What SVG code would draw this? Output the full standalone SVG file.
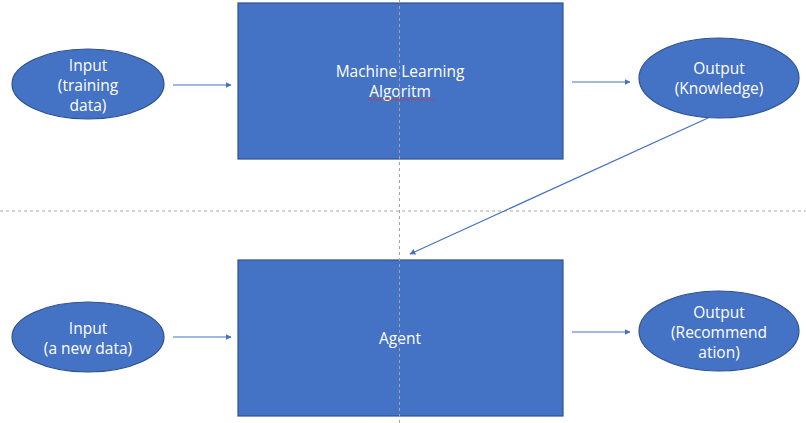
<svg xmlns="http://www.w3.org/2000/svg" width="806" height="423" viewBox="0 0 806 423">
<style>
.shape{fill:#4472C4;stroke:#2F528F;stroke-width:1.2}
.lbl{font-family:"Open Sans","Noto Sans","Liberation Sans",sans-serif;font-size:15.5px;fill:#FFFFFF;text-anchor:middle}
.guide{stroke:#A6A6A6;stroke-width:1;stroke-dasharray:3 3;fill:none}
.conn{stroke:#4472C4;stroke-width:1.2;fill:none;marker-end:url(#ah)}
</style>
<defs>
<marker id="ah" viewBox="0 0 10 10" refX="9" refY="5" markerWidth="6" markerHeight="6" markerUnits="userSpaceOnUse" orient="auto">
<path d="M0,0 L10,5 L0,10 z" fill="#4472C4"/>
</marker>
</defs>
<rect width="806" height="423" fill="#FFFFFF"/>
<g id="ml">
<rect class="shape" x="238" y="3" width="325" height="156"/>
<text class="lbl" x="400" y="77">Machine Learning</text>
<text class="lbl" x="400" y="97">Algoritm</text>
<path d="M368,99.5 q1.5,-2 3,0 t3,0 t3,0 t3,0 t3,0 t3,0 t3,0 t3,0 t3,0 t3,0 t3,0 t3,0 t3,0 t3,0 t3,0 t3,0 t3,0 t3,0 t3,0 t3,0 t3,0 t3,0" fill="none" stroke="#E03030" stroke-width="0.8"/>
</g>
<g id="agent">
<rect class="shape" x="238" y="260" width="325" height="156"/>
<text class="lbl" x="400" y="344">Agent</text>
</g>
<g id="in1">
<ellipse class="shape" cx="88" cy="84" rx="76" ry="35"/>
<text class="lbl" x="88" y="71">Input</text>
<text class="lbl" x="88" y="91">(training</text>
<text class="lbl" x="88" y="111">data)</text>
</g>
<g id="out1">
<ellipse class="shape" cx="719" cy="78" rx="80" ry="40"/>
<text class="lbl" x="719" y="74">Output</text>
<text class="lbl" x="719" y="94">(Knowledge)</text>
</g>
<g id="in2">
<ellipse class="shape" cx="88" cy="337" rx="76" ry="35"/>
<text class="lbl" x="88" y="334">Input</text>
<text class="lbl" x="88" y="354">(a new data)</text>
</g>
<g id="out2">
<ellipse class="shape" cx="719" cy="331" rx="80" ry="40"/>
<text class="lbl" x="719" y="318">Output</text>
<text class="lbl" x="719" y="338">(Recommend</text>
<text class="lbl" x="719" y="358">ation)</text>
</g>
<g id="guides">
<line class="guide" x1="0" y1="211" x2="806" y2="211"/>
<line class="guide" x1="399.5" y1="0" x2="399.5" y2="423"/>
</g>
<g id="connectors">
<line class="conn" x1="173" y1="85" x2="231" y2="85"/>
<line class="conn" x1="572" y1="82" x2="630" y2="82"/>
<line class="conn" x1="173" y1="337" x2="231" y2="337"/>
<line class="conn" x1="572" y1="332" x2="630" y2="332"/>
<line class="conn" x1="708" y1="118" x2="410" y2="254"/>
</g>
</svg>
